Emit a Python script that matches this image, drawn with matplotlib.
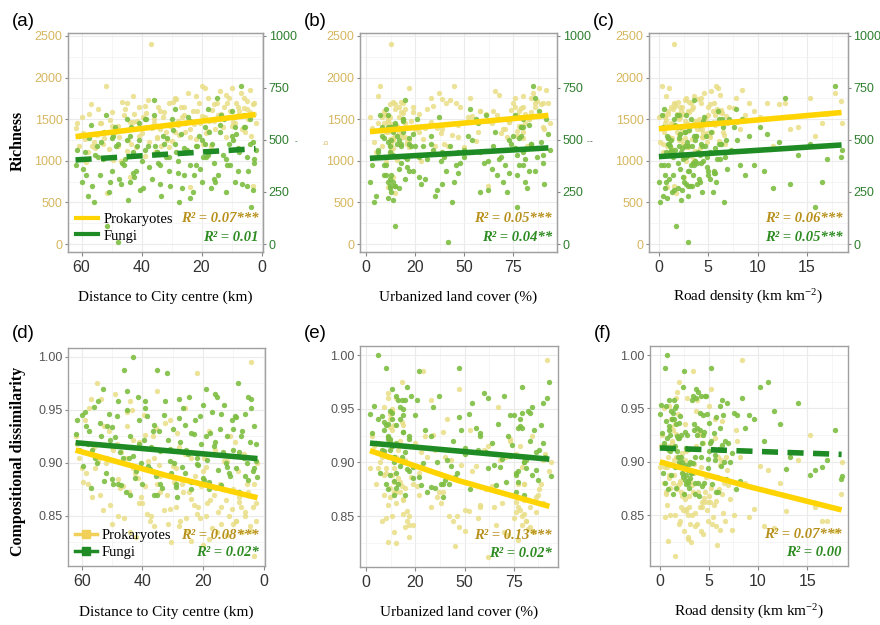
import numpy as np
import matplotlib.pyplot as plt
from matplotlib.lines import Line2D

plt.rcParams['font.family'] = ['Liberation Sans', 'DejaVu Sans']
plt.rcParams['mathtext.fontset'] = 'custom'
plt.rcParams['mathtext.rm'] = 'Liberation Serif'
plt.rcParams['mathtext.it'] = 'Liberation Serif:italic'

# site data
distance = [62, 61, 60, 59, 58, 57, 56, 55, 54, 53, 52, 51, 50, 49, 48, 47, 46, 45, 44.5, 44,
            43, 42, 41, 40, 39.5, 39, 38, 37, 36.5, 36, 35, 34, 33.5, 33, 32, 31, 30.5, 30, 29, 28,
            27.5, 27, 26, 25, 24.5, 24, 23, 22, 21, 20.5, 20, 19, 18.5, 18, 17, 16.5, 16, 15, 14.5, 14,
            13, 12.5, 12, 11, 10.5, 10, 9, 8.5, 8, 7, 6.5, 6, 5, 4.5, 4, 3.5, 3, 2.5, 2,
            58.5, 55.5, 53.5, 49.5, 47.5, 45.5, 43.5, 41.5, 40.5, 38.5, 35.5, 34.5, 31.5, 28.5, 26.5,
            25.5, 22.5, 21.5, 19.5, 17.5, 15.5, 13.5, 11.5, 9.5, 7.5, 5.5, 48, 51.5, 44, 24, 3,
            61.5, 59.5, 57.5, 56.5, 54.5, 52.5, 50.5, 48.5, 46.5, 45, 42.5, 41, 39, 37.5, 36, 34, 32.5, 31, 29.5, 28,
            26, 24, 22, 20, 18, 16, 14, 12, 10, 8, 6, 4, 2.5, 35, 50, 5, 29, 19, 43, 9]
urban = [3, 8, 2, 12, 5, 15, 4, 18, 9, 21, 7, 13, 24, 11, 16, 28, 10, 19, 14, 33,
         6, 22, 17, 38, 12, 26, 43, 13, 30, 20, 47, 9, 35, 52, 27, 41, 15, 56, 33, 62,
         44, 24, 67, 50, 37, 71, 58, 29, 75, 64, 45, 79, 69, 53, 82, 74, 60, 86, 77, 66,
         90, 80, 72, 84, 78, 88, 81, 93, 76, 85, 91, 79, 87, 83, 92, 77, 89, 81, 94,
         10, 14, 11, 16, 20, 31, 13, 23, 36, 19, 12, 48, 22, 39, 17,
         57, 13, 65, 40, 19, 70, 61, 46, 73, 58, 80, 42, 15, 14, 11, 62,
         6, 17, 9, 12, 20, 14, 11, 25, 18, 13, 27, 15, 34, 21, 11, 39, 18, 50, 14, 47,
         76, 19, 80, 54, 77, 12, 83, 68, 79, 86, 76, 84, 90, 80, 78, 15, 10, 22, 73, 8]
road = [0.2, 0.8, 0.0, 1.1, 0.4, 1.6, 0.1, 2.0, 0.6, 2.4, 0.3, 1.3, 3.1, 1.8, 0.9, 2.7, 0.5, 1.5, 2.2, 3.8,
        0.7, 2.9, 1.2, 4.5, 1.9, 3.3, 2.6, 1.5, 4.1, 3.6, 5.2, 0.9, 3.0, 4.8, 2.5, 5.6, 3.2, 6.1, 4.3, 3.7,
        6.6, 2.1, 5.0, 7.3, 4.6, 8.2, 5.5, 3.4, 9.1, 6.9, 5.8, 10.2, 4.9, 7.8, 11.6, 6.3, 3.9, 12.8, 8.7, 5.3,
        14.1, 7.1, 4.4, 15.3, 9.6, 6.0, 16.5, 11.0, 5.7, 17.8, 13.3, 7.6, 18.4, 10.6, 8.4, 15.8, 12.2, 17.0, 18.5,
        3.5, 4.2, 2.8, 3.6, 1.0, 5.9, 0.4, 4.7, 2.3, 6.4, 1.1, 3.5, 2.0, 4.0, 0.6,
        5.4, 1.4, 3.0, 6.7, 2.6, 4.2, 1.8, 3.3, 7.9, 2.2, 6.5, 2.9, 1.7, 2.5, 0.8, 1.5,
        1.2, 2.1, 0.9, 3.0, 1.4, 2.6, 0.7, 4.4, 1.9, 3.7, 2.4, 5.1, 1.6, 4.9, 2.0, 3.9, 6.3, 2.7, 3.1, 5.7,
        2.3, 4.5, 3.6, 6.8, 2.9, 5.2, 4.1, 6.2, 3.8, 5.0, 2.7, 6.1, 4.3, 1.3, 0.9, 3.4, 0.5, 1.0, 5.6, 2.1]
prok_rich = [1390, 1180, 1520, 1260, 1100, 1680, 1230, 1310, 1450, 1200, 1900, 1140, 1580, 1350, 1420, 1000, 1550, 1700, 1250, 1470,
             1780, 1160, 1640, 1330, 1520, 1060, 1730, 2400, 1390, 1450, 1280, 1600, 1180, 1520, 1350, 1690, 1420, 1240, 1760, 1480,
             1310, 1650, 1550, 1120, 1820, 1380, 1600, 1260, 1700, 1450, 1900, 1520, 1330, 1760, 1180, 1610, 1480, 1700, 1550, 1840,
             1400, 1650, 1280, 1750, 1600, 1880, 1450, 1700, 1550, 1820, 1380, 1630, 1720, 1500, 1850, 1300, 1680, 1560, 1450,
             980, 1150, 1450, 1010, 1290, 1620, 1200, 1480, 1390, 1570, 1100, 1640, 1250, 1740, 1530,
             1340, 1440, 1600, 1200, 1480, 1380, 1560, 1690, 1470, 1600, 1350, 1180, 610, 800, 680, 700,
             1450, 1330, 1560, 1180, 1620, 1270, 1490, 1380, 1710, 1120, 1560, 1300, 1660, 1230, 1500, 1380, 1590, 1170, 1710, 1430,
             1640, 1290, 1780, 1540, 1360, 1680, 1500, 1790, 1420, 1650, 1760, 1580, 1700, 1270, 1420, 1620, 1350, 1880, 1460, 1530]
fungi_rich = [380, 520, 300, 440, 230, 570, 200, 470, 330, 410, 620, 250, 350, 560, 480, 290, 380, 600, 210, 520,
              440, 350, 500, 400, 270, 600, 470, 560, 310, 690, 440, 380, 230, 520, 420, 350, 280, 600, 480, 400,
              200, 530, 330, 450, 610, 380, 250, 470, 520, 360, 300, 560, 420, 650, 270, 480, 390, 700, 330, 540,
              430, 600, 250, 480, 380, 640, 300, 530, 460, 760, 290, 560, 420, 350, 600, 180, 490, 410, 450,
              330, 430, 490, 520, 310, 410, 560, 470, 260, 600, 470, 390, 510, 440, 270,
              580, 330, 470, 420, 540, 300, 620, 380, 500, 440, 560, 12, 88, 300, 220, 260,
              450, 360, 510, 280, 420, 540, 300, 470, 390, 500, 320, 580, 450, 370, 620, 290, 480, 420, 550, 340,
              460, 590, 380, 500, 430, 310, 570, 410, 520, 350, 620, 480, 390, 440, 510, 280, 650, 480, 340, 560]
prok_diss = [0.925, 0.905, 0.895, 0.940, 0.880, 0.960, 0.915, 0.975, 0.870, 0.855, 0.900, 0.930, 0.842, 0.965, 0.885, 0.910, 0.848, 0.935, 0.872, 0.958,
             0.895, 0.830, 0.920, 0.862, 0.945, 0.878, 0.902, 0.850, 0.925, 0.840, 0.968, 0.888, 0.912, 0.855, 0.870, 0.940, 0.825, 0.897, 0.858, 0.915,
             0.845, 0.880, 0.952, 0.836, 0.872, 0.905, 0.860, 0.985, 0.848, 0.878, 0.822, 0.896, 0.862, 0.930, 0.838, 0.870, 0.912, 0.854, 0.880, 0.842,
             0.902, 0.865, 0.832, 0.925, 0.856, 0.875, 0.845, 0.892, 0.863, 0.835, 0.908, 0.850, 0.870, 0.840, 0.995, 0.858, 0.880, 0.845, 0.900,
             0.890, 0.895, 0.960, 0.912, 0.876, 0.905, 0.950, 0.886, 0.868, 0.852, 0.933, 0.898, 0.842, 0.928, 0.872,
             0.848, 0.888, 0.858, 0.905, 0.865, 0.835, 0.875, 0.850, 0.920, 0.858, 0.880, 0.850, 0.905, 0.835, 0.826, 0.812,
             0.918, 0.882, 0.952, 0.868, 0.902, 0.935, 0.860, 0.918, 0.878, 0.948, 0.890, 0.862, 0.926, 0.845, 0.905, 0.872, 0.938, 0.856, 0.882, 0.840,
             0.908, 0.866, 0.852, 0.892, 0.828, 0.876, 0.858, 0.902, 0.842, 0.868, 0.854, 0.836, 0.862, 0.880, 0.915, 0.872, 0.895, 0.850, 0.922, 0.845]
fungi_diss = [0.927, 0.912, 0.945, 0.948, 0.918, 0.876, 0.953, 0.900, 0.938, 0.970, 0.890, 0.946, 0.885, 0.924, 0.958, 0.879, 0.988, 0.950, 0.905, 0.925,
              1.000, 0.892, 0.940, 0.880, 0.922, 0.958, 0.897, 0.915, 0.930, 0.870, 0.988, 0.911, 0.876, 0.945, 0.985, 0.902, 0.890, 0.932, 0.877, 0.960,
              0.920, 0.896, 0.936, 0.908, 0.962, 0.882, 0.927, 0.899, 0.944, 0.918, 0.886, 0.970, 0.903, 0.875, 0.948, 0.916, 0.965, 0.893, 0.932, 0.879,
              0.955, 0.900, 0.925, 0.888, 0.940, 0.912, 0.895, 0.975, 0.872, 0.930, 0.905, 0.946, 0.884, 0.920, 0.960, 0.892, 0.935, 0.902, 0.887,
              0.935, 0.905, 0.925, 0.880, 0.910, 0.872, 0.915, 0.962, 0.900, 0.944, 0.888, 0.930, 0.922, 0.868, 0.952,
              0.912, 0.940, 0.898, 0.884, 0.928, 0.962, 0.910, 0.890, 0.944, 0.925, 0.900, 0.880, 0.935, 0.870, 0.875, 0.895,
              0.940, 0.897, 0.930, 0.912, 0.958, 0.883, 0.922, 0.944, 0.905, 0.968, 0.886, 0.918, 0.952, 0.894, 0.936, 0.880, 0.958, 0.913, 0.900, 0.942,
              0.890, 0.928, 0.905, 0.955, 0.882, 0.920, 0.946, 0.896, 0.932, 0.910, 0.888, 0.952, 0.918, 0.870, 0.934, 0.962, 0.880, 0.925, 0.906, 0.943]

# fitted lines
fit_x = {'dist': [62, 2], 'urban': [2, 93], 'road': [0, 18.5]}
fit_x3 = {'dist': [62, 32, 2], 'urban': [2, 47, 93], 'road': [0, 9, 18.5]}
fit_prok_rich = {'dist': [1290, 1555], 'urban': [1350, 1545], 'road': [1385, 1580]}
fit_fungi_rich = {'dist': [404, 458], 'urban': [412, 462], 'road': [420, 476]}
fit_prok_diss = {'dist': [0.912, 0.888, 0.867], 'urban': [0.911, 0.883, 0.859], 'road': [0.900, 0.877, 0.855]}
fit_fungi_diss = {'dist': [0.919, 0.904], 'urban': [0.918, 0.903], 'road': [0.913, 0.907]}

r2_rich = {'dist': ('0.07***', '0.01'), 'urban': ('0.05***', '0.04**'), 'road': ('0.06***', '0.05***')}
r2_diss = {'dist': ('0.08***', '0.02*'), 'urban': ('0.13***', '0.02*'), 'road': ('0.07***', '0.00')}
fungi_dashed_rich = {'dist': True, 'urban': False, 'road': False}
fungi_dashed_diss = {'dist': False, 'urban': False, 'road': True}

xlabels = {'dist': 'Distance to City centre (km)', 'urban': 'Urbanized land cover (%)',
           'road': 'Road density (km km$^{-2}$)'}
xdata = {'dist': distance, 'urban': urban, 'road': road}
xlims = {'dist': (64.5, -0.5), 'urban': (-3.05, 97.4), 'road': (-1.0, 19.15)}
xticks = {'dist': [60, 40, 20, 0], 'urban': [0, 25, 50, 75], 'road': [0, 5, 10, 15]}
xticklabels = {'dist': ['60', '40', '20', '0'], 'urban': ['0', '20', '50', '75'], 'road': ['0', '5', '10', '15']}
xminor = {'dist': [50, 30, 10], 'urban': [12.5, 37.5, 62.5, 87.5], 'road': [2.5, 7.5, 12.5, 17.5]}

PROK_PT = '#E9DE86'
FUNGI_PT = '#7DBE42'
PROK_LN = '#FFD400'
FUNGI_LN = '#1E8B24'
PROK_TXT = '#B8901C'
FUNGI_TXT = '#2E8B22'
LEFT_TICK = '#D6B760'
RIGHT_TICK = '#2F7F2F'
SERIF = 'Liberation Serif'
PT_SIZE = 15

fig = plt.figure(figsize=(8.8, 6.25), dpi=100)

top_pos = {'dist': [0.0773, 0.5968, 0.2216, 0.3504], 'urban': [0.4091, 0.5968, 0.2239, 0.3504],
           'road': [0.7375, 0.5968, 0.2261, 0.3504]}
bot_pos = {'dist': [0.0773, 0.0944, 0.2239, 0.3488], 'urban': [0.4091, 0.0928, 0.225, 0.3536],
           'road': [0.7386, 0.0944, 0.225, 0.352]}
letters_top = {'dist': '(a)', 'urban': '(b)', 'road': '(c)'}
letters_bot = {'dist': '(d)', 'urban': '(e)', 'road': '(f)'}


def style_axes(ax, key, yminor):
    ax.set_facecolor('white')
    for s in ax.spines.values():
        s.set_color('#A0A0A0')
        s.set_linewidth(1.0)
    ax.set_xlim(*xlims[key])
    ax.set_xticks(xticks[key])
    ax.set_xticklabels(xticklabels[key])
    ax.set_xticks(xminor[key], minor=True)
    ax.set_yticks(yminor, minor=True)
    ax.grid(True, which='major', color='#EBEBEB', lw=0.8)
    ax.grid(True, which='minor', color='#F4F4F4', lw=0.6)
    ax.set_axisbelow(True)
    ax.tick_params(axis='x', which='major', labelsize=11.5, labelcolor='#333333', color='#888888',
                   length=3, width=0.8, pad=3)
    ax.tick_params(which='minor', length=0)


for key in ['dist', 'urban', 'road']:
    # richness row
    ax = fig.add_axes(top_pos[key])
    ax.scatter(xdata[key], prok_rich, s=PT_SIZE, color=PROK_PT, alpha=0.85, lw=0, zorder=2)
    ax.scatter(xdata[key], np.array(fungi_rich) * 2.5, s=PT_SIZE, color=FUNGI_PT, alpha=0.9, lw=0, zorder=3)
    ax.plot(fit_x[key], fit_prok_rich[key], color=PROK_LN, lw=4, solid_capstyle='butt', zorder=4)
    if fungi_dashed_rich[key]:
        ax.plot(fit_x[key], np.array(fit_fungi_rich[key]) * 2.5, color=FUNGI_LN, lw=4,
                dashes=(2.9, 1.7), dash_capstyle='butt', zorder=4)
    else:
        ax.plot(fit_x[key], np.array(fit_fungi_rich[key]) * 2.5, color=FUNGI_LN, lw=4,
                solid_capstyle='butt', zorder=4)
    style_axes(ax, key, [250, 750, 1250, 1750, 2250])
    ax.set_ylim(-96, 2535)
    ax.set_yticks([0, 500, 1000, 1500, 2000, 2500])
    ax.tick_params(axis='y', labelsize=9, labelcolor=LEFT_TICK, color='#888888', length=2.5, pad=1.5)
    ax2 = ax.twinx()
    ax2.set_ylim(-96 / 2.5, 2535 / 2.5)
    ax2.set_yticks([0, 250, 500, 750, 1000])
    ax2.tick_params(axis='y', labelsize=9, labelcolor=RIGHT_TICK, color='#888888', length=2.5, pad=1.5)
    for s in ax2.spines.values():
        s.set_color('#A0A0A0')
    a, b = r2_rich[key]
    ax.text(0.975, 0.152, 'R² = ' + a, transform=ax.transAxes, ha='right', va='center',
            family=SERIF, style='italic', weight='bold', fontsize=10.5, color=PROK_TXT, zorder=6)
    ax.text(0.975, 0.066, 'R² = ' + b, transform=ax.transAxes, ha='right', va='center',
            family=SERIF, style='italic', weight='bold', fontsize=10.5, color=FUNGI_TXT, zorder=6)
    fig.text(top_pos[key][0] + top_pos[key][2] / 2, 1 - 297 / 625, xlabels[key],
             ha='center', va='center', family=SERIF, fontsize=11)
    fig.text(top_pos[key][0] - 0.064, 0.965, letters_top[key], ha='left', va='center', fontsize=13.5)
    if key == 'dist':
        h = [Line2D([], [], color=PROK_LN, lw=3), Line2D([], [], color=FUNGI_LN, lw=3)]
        leg = ax.legend(h, ['Prokaryotes', 'Fungi'], loc='center left', bbox_to_anchor=(0.04, 0.112),
                        frameon=False, prop={'family': SERIF, 'size': 10.5}, handlelength=1.5,
                        handletextpad=0.4, labelspacing=0.25, borderpad=0, borderaxespad=0)
        leg.set_zorder(6)

    # dissimilarity row
    ax = fig.add_axes(bot_pos[key])
    ax.scatter(xdata[key], prok_diss, s=PT_SIZE, color=PROK_PT, alpha=0.85, lw=0, zorder=2)
    ax.scatter(xdata[key], fungi_diss, s=PT_SIZE, color=FUNGI_PT, alpha=0.9, lw=0, zorder=3)
    if fungi_dashed_diss[key]:
        ax.plot(fit_x[key], fit_fungi_diss[key], color=FUNGI_LN, lw=4, dashes=(2.9, 1.7),
                dash_capstyle='butt', zorder=4)
    else:
        ax.plot(fit_x[key], fit_fungi_diss[key], color=FUNGI_LN, lw=4, solid_capstyle='butt', zorder=4)
    ax.plot(fit_x3[key], fit_prok_diss[key], color=PROK_LN, lw=4, solid_capstyle='butt', zorder=4)
    style_axes(ax, key, [0.825, 0.875, 0.925, 0.975])
    ax.set_ylim(0.8025, 1.0085)
    ax.set_yticks([0.85, 0.90, 0.95, 1.00])
    ax.set_yticklabels(['0.85', '0.90', '0.95', '1.00'])
    ax.tick_params(axis='y', labelsize=9, labelcolor='#555555', color='#888888', length=2.5, pad=1.5)
    a, b = r2_diss[key]
    ax.text(0.968, 0.142, 'R² = ' + a, transform=ax.transAxes, ha='right', va='center',
            family=SERIF, style='italic', weight='bold', fontsize=10.5, color=PROK_TXT, zorder=6)
    ax.text(0.968, 0.060, 'R² = ' + b, transform=ax.transAxes, ha='right', va='center',
            family=SERIF, style='italic', weight='bold', fontsize=10.5, color=FUNGI_TXT, zorder=6)
    fig.text(bot_pos[key][0] + bot_pos[key][2] / 2, 1 - 612 / 625, xlabels[key],
             ha='center', va='center', family=SERIF, fontsize=11)
    fig.text(bot_pos[key][0] - 0.064, 1 - 333 / 625, letters_bot[key], ha='left', va='center', fontsize=13.5)
    if key == 'dist':
        h = [Line2D([], [], color='#F0D058', lw=2.5, marker='s', ms=6),
             Line2D([], [], color=FUNGI_LN, lw=2.5, marker='s', ms=6)]
        leg = ax.legend(h, ['Prokaryotes', 'Fungi'], loc='center left', bbox_to_anchor=(0.035, 0.101),
                        frameon=False, prop={'family': SERIF, 'size': 10.5}, handlelength=1.5,
                        handletextpad=0.3, labelspacing=0.25, borderpad=0, borderaxespad=0)
        leg.set_zorder(6)

# row titles
fig.text(18 / 880, 1 - 141 / 625, 'Richness', rotation=90, ha='center', va='center',
         family=SERIF, weight='bold', fontsize=11.5)
fig.text(18 / 880, 1 - 461 / 625, 'Compositional dissimilarity', rotation=90, ha='center', va='center',
         family=SERIF, weight='bold', fontsize=11.5)

# leftover empty axis titles
fig.text(296 / 880, 1 - 142 / 625, '-', color=RIGHT_TICK, fontsize=6, ha='center', va='center')
fig.text(327 / 880, 1 - 142 / 625, 'b', color=LEFT_TICK, fontsize=5, rotation=90, ha='center', va='center')
fig.text(588 / 880, 1 - 142 / 625, '-', color=RIGHT_TICK, fontsize=6, ha='center', va='center')
fig.text(591 / 880, 1 - 142 / 625, '-', color='#333333', fontsize=6, ha='center', va='center')

fig.savefig('out.png', dpi=100)
